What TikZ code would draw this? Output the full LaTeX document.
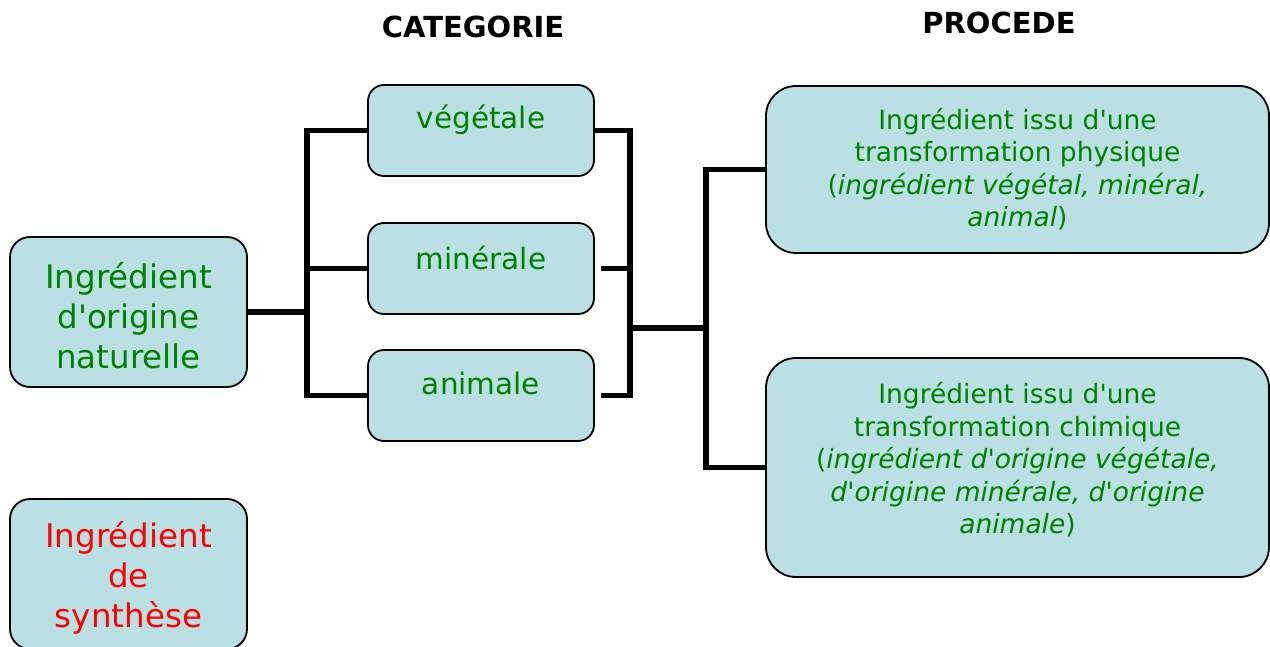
\documentclass[tikz,border=0pt]{standalone}
\usepackage{fontspec}
\setmainfont{DejaVu Sans}[Ligatures=TeXOff]
\definecolor{boxfill}{HTML}{BBE0E3}
\definecolor{tgreen}{HTML}{008000}
\definecolor{tred}{HTML}{FF0000}
\begin{document}
\begin{tikzpicture}[x=1pt,y=-1pt,
  box/.style={draw=black, line width=1.8pt, fill=boxfill, inner sep=0pt},
  conn/.style={draw=black, line width=5.5pt},
  ttl/.style={font=\bfseries\fontsize{29}{34}\selectfont},
  lbl/.style={align=center, inner sep=0pt}]
\useasboundingbox (0,0) rectangle (1270,647);
% titles
\node[ttl] (tcat) at (473,27) {CATEGORIE};
\node[ttl] (tproc) at (999,23) {PROCEDE};
% boxes
\node[box, rounded corners=20pt, minimum width=237pt, minimum height=150pt] (nat) at (128.5,312) {};
\node[box, rounded corners=20pt, minimum width=237pt, minimum height=150pt] (syn) at (128.5,574) {};
\node[box, rounded corners=16pt, minimum width=226pt, minimum height=91pt] (veg) at (481,130.5) {};
\node[box, rounded corners=16pt, minimum width=226pt, minimum height=91pt] (min) at (481,268.5) {};
\node[box, rounded corners=16pt, minimum width=226pt, minimum height=91pt] (ani) at (481,395.5) {};
\node[box, rounded corners=30pt, minimum width=503pt, minimum height=167pt] (phys) at (1017.5,169.5) {};
\node[box, rounded corners=30pt, minimum width=503pt, minimum height=219pt] (chim) at (1017.5,467.5) {};
% texts
\node[lbl, text=tgreen, font=\fontsize{32.5}{40}\selectfont] (natt) at (128.5,316) {Ingrédient\\d'origine\\naturelle};
\node[lbl, text=tred, font=\fontsize{32.5}{40}\selectfont] (synt) at (128.5,578) {Ingrédient\\de\\synthèse};
\node[lbl, text=tgreen, font=\fontsize{29.5}{36}\selectfont] (vegt) at (481,120) {végétale};
\node[lbl, text=tgreen, font=\fontsize{29.5}{36}\selectfont] (mint) at (481,258) {minérale};
\node[lbl, text=tgreen, font=\fontsize{29.5}{36}\selectfont] (anit) at (481,384) {animale};
\node[lbl, text=tgreen, font=\fontsize{26.5}{32.5}\selectfont] (physt) at (1017.5,169) {Ingrédient issu d'une\\transformation physique\\(\textit{ingrédient végétal, minéral,}\\\textit{animal})};
\node[lbl, text=tgreen, font=\fontsize{26.5}{32.5}\selectfont] (chimt) at (1017.5,460) {Ingrédient issu d'une\\transformation chimique\\(\textit{ingrédient d'origine végétale,}\\\textit{d'origine minérale, d'origine}\\\textit{animale})};
% connectors
\coordinate (j1) at (307,312);
\coordinate (j2) at (630,328);
\coordinate (j3) at (706,328);
\draw[conn] (nat.east) -- (j1);
\draw[conn] (veg.west) -| (j1);
\draw[conn] (ani.west) -| (j1);
\draw[conn] (min.west) -- (min.west -| j1);
\draw[conn] (veg.east) -| (j2);
\draw[conn] ([xshift=6pt]ani.east) -| (j2);
\draw[conn] ([xshift=6pt]min.east) -- (min.east -| j2);
\draw[conn] (j2) -- (j3);
\draw[conn] (phys.west) -| (j3);
\draw[conn] (chim.west) -| (j3);
\end{tikzpicture}
\end{document}
